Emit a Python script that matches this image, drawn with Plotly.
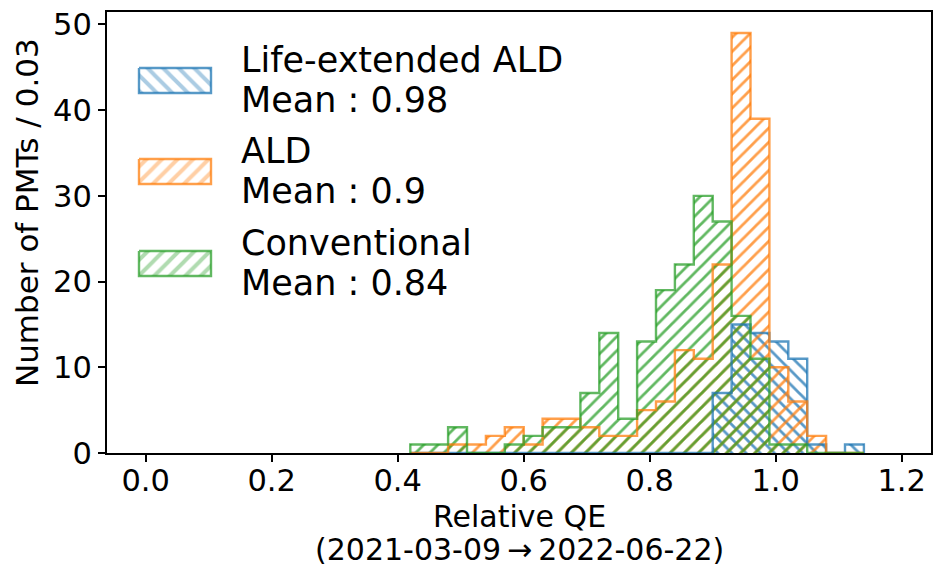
import plotly.graph_objects as go

# ---------------- data ----------------
bin_width = 0.03
bin_lefts = [round(0.42 + i * bin_width, 2) for i in range(24)]

series_names = ["Life-extended ALD", "ALD", "Conventional"]
series_means = ["0.98", "0.9", "0.84"]

counts_life_ext = [0, 0, 0, 0, 0, 0, 0, 0, 0, 0, 0, 0, 0, 0, 0, 0,
                   7, 15, 14, 13, 11, 1, 0, 1]
counts_ald = [0, 0, 1, 1, 2, 3, 1, 4, 4, 3, 2, 2, 5, 6, 12, 11,
              22, 49, 39, 10, 6, 2, 0, 0]
counts_conv = [1, 1, 3, 0, 0, 1, 2, 3, 3, 7, 14, 4, 13, 19, 22, 30,
               27, 16, 11, 1, 1, 0, 0, 0]

x_ticks = [0.0, 0.2, 0.4, 0.6, 0.8, 1.0, 1.2]
y_ticks = [0, 10, 20, 30, 40, 50]

x_title_lines = ["Relative QE", "(2021-03-09\u2009\u2192\u20092022-06-22)"]
y_title = "Number of PMTs / 0.03"

# ---------------- style ----------------
colors = ["rgba(31,119,180,0.75)", "rgba(255,127,14,0.75)", "rgba(44,160,44,0.75)"]
hatches = ["\\", "/", "/"]
FONT = "DejaVu Sans"
W, H = 933, 568
L, R, T, B = 107, 931, 12, 453

fig = go.Figure()

all_counts = [counts_life_ext, counts_ald, counts_conv]
for counts, col, hat, name in zip(all_counts, colors, hatches, series_names):
    centers = [x + bin_width / 2 for x in bin_lefts]
    fig.add_trace(go.Bar(
        x=centers, y=counts, width=bin_width, name=name,
        marker=dict(color=col, line=dict(width=0),
                    pattern=dict(shape=hat, fgcolor=col, size=10, solidity=0.28,
                                 fillmode="replace")),
        showlegend=False, hoverinfo="skip"))
    # step outline
    xs, ys = [bin_lefts[0]], [0]
    for xl, c in zip(bin_lefts, counts):
        xs += [xl, xl + bin_width]
        ys += [c, c]
    xs.append(bin_lefts[-1] + bin_width)
    ys.append(0)
    fig.add_trace(go.Scatter(x=xs, y=ys, mode="lines",
                             line=dict(color=col, width=2.4),
                             showlegend=False, hoverinfo="skip"))

# ---------------- custom legend (pixel overlay axes) ----------------
patch_x0, patch_x1 = 139, 211
patch_tops = [68, 159, 251]
patch_h = 25
text_x = 239
for col, hat, top, name, mean in zip(colors, hatches, patch_tops, series_names, series_means):
    fig.add_trace(go.Scatter(
        x=[patch_x0, patch_x1, patch_x1, patch_x0, patch_x0],
        y=[top, top, top + patch_h, top + patch_h, top],
        xaxis="x2", yaxis="y2", mode="lines", fill="toself",
        fillcolor="rgba(0,0,0,0)",
        fillpattern=dict(shape=hat, fgcolor=col, bgcolor="rgba(0,0,0,0)",
                         size=11, solidity=0.36),
        line=dict(color=col, width=2.4), showlegend=False, hoverinfo="skip"))
    mid = top + patch_h / 2
    fig.add_annotation(x=text_x, y=mid - 21, xref="x2", yref="y2", text=name,
                       showarrow=False, xanchor="left", yanchor="middle",
                       font=dict(family=FONT, size=35, color="black"))
    fig.add_annotation(x=text_x, y=mid + 19, xref="x2", yref="y2",
                       text="Mean : " + mean,
                       showarrow=False, xanchor="left", yanchor="middle",
                       font=dict(family=FONT, size=35, color="black"))


def px_to_paper_y(py):
    return (B - py) / (B - T)


def px_to_paper_x(px):
    return (px - L) / (R - L)


# axis titles as annotations
for line, py in zip(x_title_lines, [516, 549]):
    fig.add_annotation(x=px_to_paper_x(519), y=px_to_paper_y(py), xref="paper", yref="paper",
                       text=line, showarrow=False, xanchor="center", yanchor="middle",
                       borderpad=0,
                       font=dict(family=FONT, size=30, color="black"))
fig.add_annotation(x=px_to_paper_x(27), y=px_to_paper_y(213), xref="paper", yref="paper",
                   text=y_title, textangle=-90, showarrow=False,
                   xanchor="center", yanchor="middle",
                   font=dict(family=FONT, size=31, color="black"))

x0_px, px_per_unit = 145.7, 630.0
x_min = (L - x0_px) / px_per_unit
x_max = (R - x0_px) / px_per_unit

fig.update_layout(
    width=W, height=H,
    margin=dict(l=L, r=W - R, t=T, b=H - B, pad=0, autoexpand=False),
    plot_bgcolor="white", paper_bgcolor="white",
    barmode="overlay", bargap=0,
    font=dict(family=FONT, size=30, color="black"),
    xaxis=dict(range=[x_min, x_max], tickvals=x_ticks,
               ticktext=[f"{v:.1f}" for v in x_ticks],
               showline=True, mirror=True, linecolor="black", linewidth=2,
               ticks="outside", ticklen=7, tickwidth=2, tickcolor="black",
               showgrid=False, zeroline=False, automargin=False,
               ticklabelstandoff=-8,
               tickfont=dict(family=FONT, size=30.5)),
    yaxis=dict(range=[0, 51.45], tickvals=y_ticks,
               showline=True, mirror=True, linecolor="black", linewidth=2,
               ticks="outside", ticklen=7, tickwidth=2, tickcolor="black",
               showgrid=False, zeroline=False, automargin=False,
               tickfont=dict(family=FONT, size=30.5)),
    xaxis2=dict(overlaying="x", range=[L, R], visible=False, fixedrange=True),
    yaxis2=dict(overlaying="y", range=[B, T], visible=False, fixedrange=True),
    showlegend=False,
)

fig.write_html(
    "out.html",
    config={"displayModeBar": False},
    post_script="document.body.style.margin='0px';document.body.style.overflow='hidden';",
)
